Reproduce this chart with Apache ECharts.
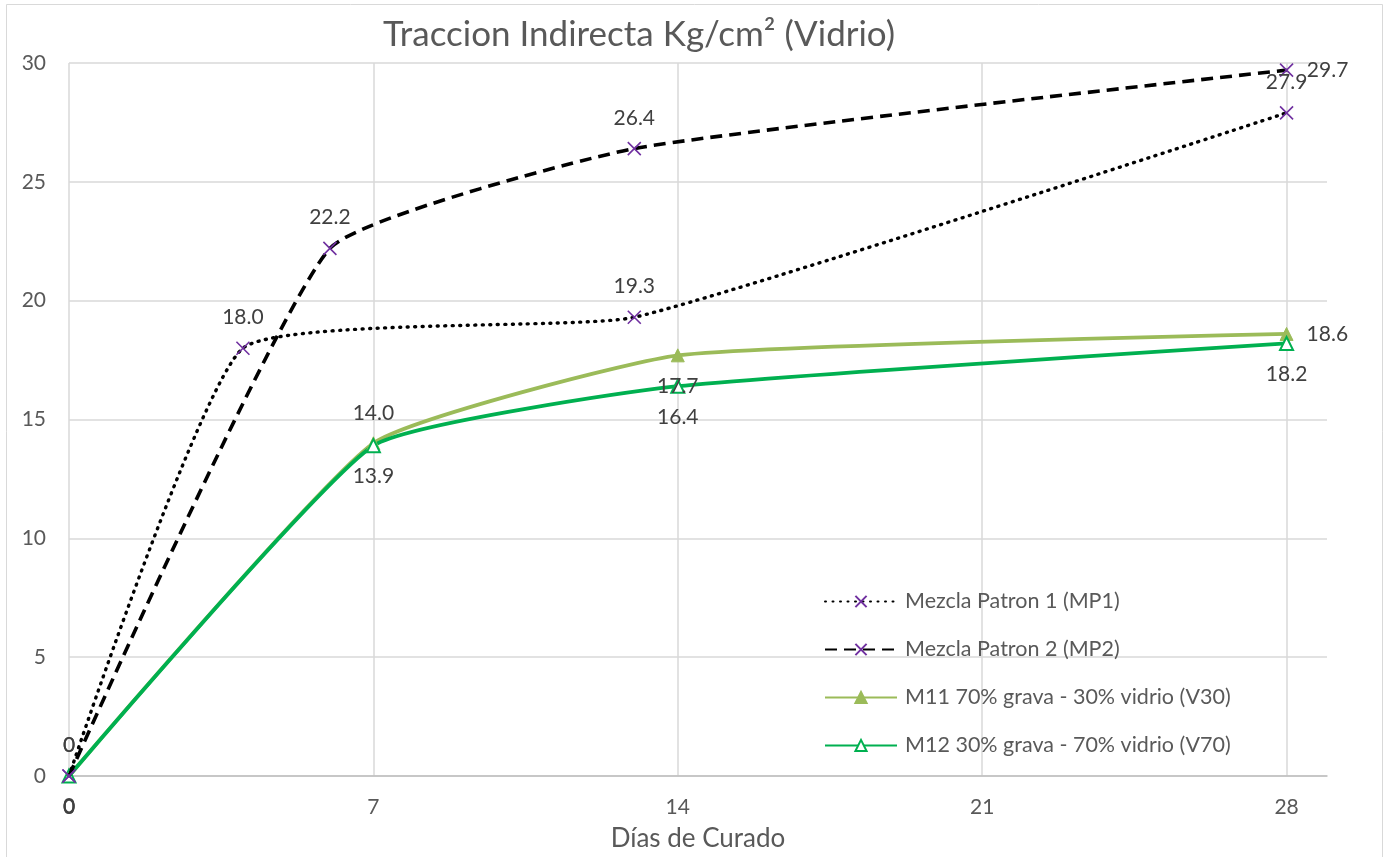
<!DOCTYPE html>
<html>
<head>
<meta charset="utf-8">
<script src="https://cdn.jsdelivr.net/npm/echarts@6/dist/echarts.min.js"></script>
<style>
  html, body { margin: 0; padding: 0; background: #fff; }
  #chart { width: 1389px; height: 857px; }
</style>
</head>
<body>
<div id="chart"></div>
<script>
// Curing days and indirect tensile strength (Kg/cm²) per mix
const seriesNames = [
  'Mezcla Patron 1 (MP1)',
  'Mezcla Patron 2 (MP2)',
  'M11 70% grava - 30% vidrio (V30)',
  'M12 30% grava - 70% vidrio (V70)'
];
const daysMP1 = [0, 4, 13, 28];
const valuesMP1 = [0, 18.0, 19.3, 27.9];
const daysMP2 = [0, 6, 13, 28];
const valuesMP2 = [0, 22.2, 26.4, 29.7];
const daysM11 = [0, 7, 14, 28];
const valuesM11 = [0, 14.0, 17.7, 18.6];
const daysM12 = [0, 7, 14, 28];
const valuesM12 = [0, 13.9, 16.4, 18.2];
const xTicks = [0, 7, 14, 21, 28];
const yTicks = [0, 5, 10, 15, 20, 25, 30];

const FONT = 'Lato, "Open Sans", sans-serif';
const crossPath = 'path://M0,0L10,10M10,0L0,10';
const SMOOTH = 0.14;

function pairs(xs, ys) { return xs.map((x, i) => [x, ys[i]]); }
function fmt(v) { return v === 0 ? '0' : v.toFixed(1); }

// label placement per point
function withLabels(points, positions) {
  return points.map((p, i) => ({
    value: p,
    label: { position: positions[i] }
  }));
}

const labelBase = {
  show: true,
  fontFamily: FONT,
  fontSize: 21,
  color: '#404040',
  distance: 13,
  formatter: p => fmt(p.value[1])
};

const chart = echarts.init(document.getElementById('chart'));
chart.setOption({
  animation: false,
  backgroundColor: '#fff',
  title: {
    text: 'Traccion Indirecta Kg/cm² (Vidrio)',
    left: 634,
    textAlign: 'center',
    top: 12,
    textStyle: { fontFamily: FONT, fontSize: 35, fontWeight: 'normal', color: '#595959' }
  },
  graphic: [{
    type: 'rect',
    shape: { x: 6.5, y: 4.5, width: 1376, height: 900 },
    style: { fill: 'none', stroke: '#d9d9d9', lineWidth: 1 },
    silent: true,
    z: -1
  }],
  grid: { left: 69, right: 62, top: 63, bottom: 81, containLabel: false },
  legend: {
    orient: 'vertical',
    left: 819,
    top: 585,
    itemWidth: 72,
    itemHeight: 14,
    itemGap: 25,
    data: seriesNames,
    textStyle: { fontFamily: FONT, fontSize: 21.5, color: '#595959', lineHeight: 23, padding: [0, 0, 0, 3] }
  },
  xAxis: {
    type: 'value',
    min: 0,
    max: 28.93,
    interval: 7,
    name: 'Días de Curado',
    nameLocation: 'middle',
    nameGap: 50,
    nameTextStyle: { fontFamily: FONT, fontSize: 26, color: '#595959' },
    axisLine: { show: true, lineStyle: { color: '#bfbfbf', width: 1.5 } },
    axisTick: { show: false },
    axisLabel: {
      fontFamily: FONT, fontSize: 21, color: '#595959', margin: 21,
      showMaxLabel: false,
      formatter: v => (xTicks.includes(v) ? String(v) : '')
    },
    splitLine: { show: true, showMaxLine: false, lineStyle: { color: '#d9d9d9', width: 1.5 } }
  },
  yAxis: {
    type: 'value',
    min: yTicks[0],
    max: yTicks[yTicks.length - 1],
    interval: 5,
    axisLine: { show: false },
    axisTick: { show: false },
    axisLabel: { fontFamily: FONT, fontSize: 21, color: '#595959', margin: 23 },
    splitLine: { show: true, lineStyle: { color: '#d9d9d9', width: 1.5 } }
  },
  series: [
    {
      name: seriesNames[0],
      type: 'line',
      smooth: SMOOTH,
      data: withLabels(pairs(daysMP1, valuesMP1), ['top', 'top', 'top', 'top']),
      symbol: crossPath,
      symbolSize: 13,
      itemStyle: { color: 'rgba(0,0,0,0)', borderColor: '#7030A0', borderWidth: 1.6 },
      lineStyle: { color: '#000', width: 3.4, type: [1, 6.5], cap: 'round' },
      label: labelBase,
      z: 3
    },
    {
      name: seriesNames[1],
      type: 'line',
      smooth: SMOOTH,
      data: withLabels(pairs(daysMP2, valuesMP2), ['top', 'top', 'top', 'right']),
      symbol: crossPath,
      symbolSize: 13,
      itemStyle: { color: 'rgba(0,0,0,0)', borderColor: '#7030A0', borderWidth: 1.6 },
      lineStyle: { color: '#000', width: 3.6, type: [12, 7] },
      label: labelBase,
      z: 3
    },
    {
      name: seriesNames[2],
      type: 'line',
      smooth: SMOOTH,
      data: withLabels(pairs(daysM11, valuesM11), ['bottom', 'top', 'bottom', 'right']),
      symbol: 'triangle',
      symbolSize: 13,
      itemStyle: { color: '#9BBB59', borderColor: '#9BBB59', borderWidth: 1 },
      lineStyle: { color: '#9BBB59', width: 3.8 },
      label: labelBase,
      z: 2
    },
    {
      name: seriesNames[3],
      type: 'line',
      smooth: SMOOTH,
      data: withLabels(pairs(daysM12, valuesM12), ['bottom', 'bottom', 'bottom', 'bottom']),
      symbol: 'triangle',
      symbolSize: 13,
      itemStyle: { color: '#ffffff', borderColor: '#00B050', borderWidth: 2 },
      lineStyle: { color: '#00B050', width: 3.8 },
      label: labelBase,
      z: 2
    }
  ]
});
</script>
</body>
</html>
